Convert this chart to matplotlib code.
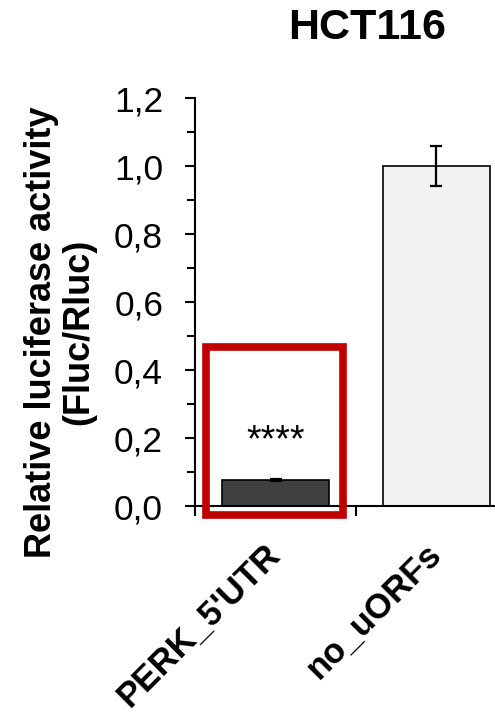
import matplotlib.pyplot as plt
from matplotlib.patches import Rectangle
from matplotlib.ticker import FuncFormatter, MultipleLocator

plt.rcParams['font.family'] = ['Liberation Sans', 'DejaVu Sans']

# data
categories = ['PERK_5\'UTR', 'no_uORFs']
values = [0.076, 1.0]
errors = [0.003, 0.06]
colors = ['#404040', '#F2F2F2']
significance = '****'

fig = plt.figure(figsize=(4.95, 7.15), dpi=100)
ax = fig.add_axes([195 / 495, 209 / 715, 322 / 495, 408 / 715])

x = list(range(len(categories)))
ax.bar(x, values, width=0.67, color=colors, edgecolor='black', linewidth=1.2, zorder=2)
ax.errorbar(x, values, yerr=errors, fmt='none', ecolor='black', elinewidth=1.6,
            capsize=4, capthick=1.6, zorder=3)

ax.set_xlim(-0.5, 1.5)
ax.set_ylim(0, 1.2)

# y axis
ax.yaxis.set_major_locator(MultipleLocator(0.2))
ax.yaxis.set_minor_locator(MultipleLocator(0.1))
ax.yaxis.set_major_formatter(FuncFormatter(lambda v, p: f'{v:.1f}'.replace('.', ',')))
ax.tick_params(axis='y', which='major', direction='out', length=7, width=1.5,
               labelsize=25.5, pad=16)
ax.tick_params(axis='y', which='minor', direction='out', length=5.5, width=1.5)

# x axis: ticks at category boundaries, labels at centres
ax.set_xticks([-0.5, 0.5, 1.5])
ax.set_xticklabels([])
ax.set_xticks(x, minor=True)
ax.set_xticklabels(categories, minor=True, rotation=45, ha='right', va='center',
                   rotation_mode='anchor', fontsize=25, fontweight='bold')
ax.tick_params(axis='x', which='major', direction='out', length=7, width=1.5)
ax.tick_params(axis='x', which='minor', length=0, pad=31)

for s in ['top', 'right']:
    ax.spines[s].set_visible(False)
for s in ['left', 'bottom']:
    ax.spines[s].set_linewidth(1.5)

ax.text(0, 0.19, significance, ha='center', va='center', fontsize=27)

ax.add_patch(Rectangle((-0.43, -0.026), 0.85, 0.494, fill=False,
                       edgecolor='#C00000', linewidth=5.5, clip_on=False, zorder=4))

fig.text(367 / 495, 1 - 28 / 715, 'HCT116', ha='center', va='center',
         fontsize=31, fontweight='bold')
fig.text(60 / 495, 1 - 332 / 715, 'Relative luciferase activity\n(Fluc/Rluc)',
         rotation=90, ha='center', va='center', fontsize=26, fontweight='bold',
         linespacing=1.1, multialignment='center')

plt.savefig('out.png')
